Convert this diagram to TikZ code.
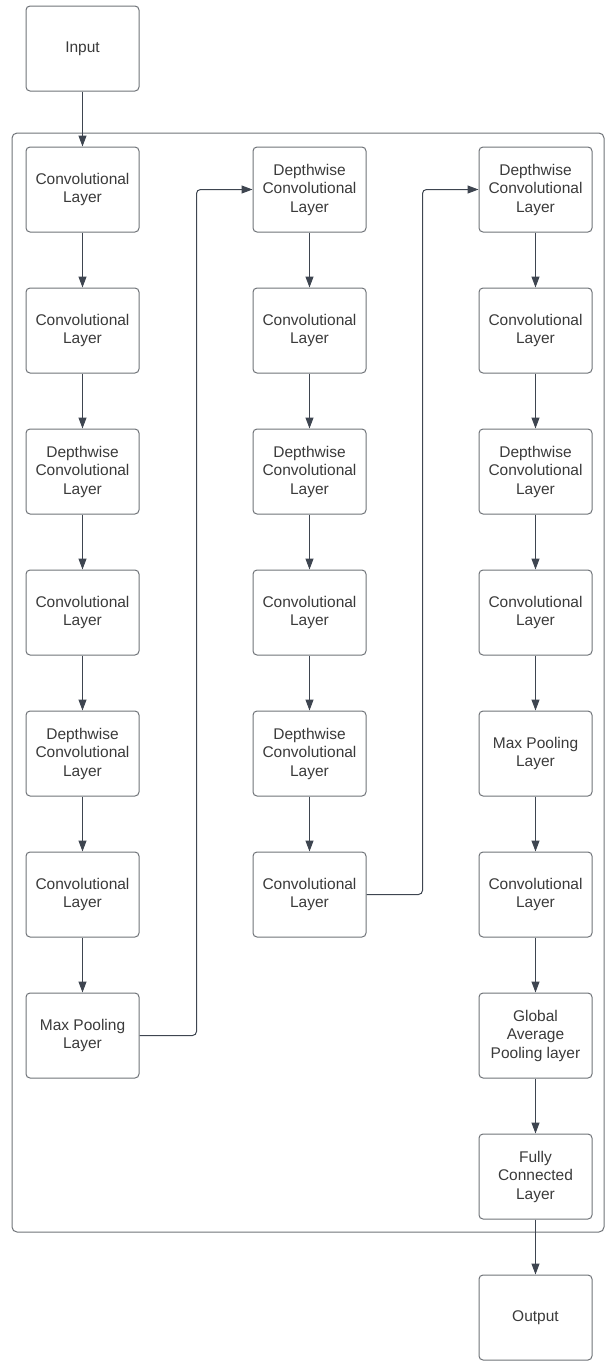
\documentclass[tikz,border=0pt]{standalone}
\usepackage{fontspec}
\setmainfont{Liberation Sans}
\usepackage{tikz}
\usetikzlibrary{arrows.meta}
\definecolor{boxgray}{HTML}{6F7378}
\definecolor{arrgray}{HTML}{3E4550}
\definecolor{txtgray}{HTML}{3A3A3A}

\begin{document}
\begin{tikzpicture}[x=1pt, y=-1pt,
    layer/.style={draw=boxgray, line width=1pt, rounded corners=4pt, minimum width=113pt, minimum height=85pt,
        inner sep=0pt, align=center, text=txtgray, font=\fontsize{15.5}{18.5}\selectfont},
    link/.style={draw=arrgray, line width=1pt, -{Triangle[length=11pt, width=8pt]}}]
                \useasboundingbox (0,0) rectangle (605,1361);
                \draw[boxgray, line width=1pt, rounded corners=5pt] (12,133) rectangle (604,1232);
                \node[layer] (in) at (82.5,48.5) {Input};
                \node[layer] (a1) at (82.5,189.5) {Convolutional\\Layer};
                \node[layer] (a2) at (82.5,330.5) {Convolutional\\Layer};
                \node[layer] (a3) at (82.5,471.5) {Depthwise\\Convolutional\\Layer};
                \node[layer] (a4) at (82.5,612.5) {Convolutional\\Layer};
                \node[layer] (a5) at (82.5,753.5) {Depthwise\\Convolutional\\Layer};
                \node[layer] (a6) at (82.5,894.5) {Convolutional\\Layer};
                \node[layer] (a7) at (82.5,1035.5) {Max Pooling\\Layer};
                \node[layer] (b1) at (309.5,189.5) {Depthwise\\Convolutional\\Layer};
                \node[layer] (b2) at (309.5,330.5) {Convolutional\\Layer};
                \node[layer] (b3) at (309.5,471.5) {Depthwise\\Convolutional\\Layer};
                \node[layer] (b4) at (309.5,612.5) {Convolutional\\Layer};
                \node[layer] (b5) at (309.5,753.5) {Depthwise\\Convolutional\\Layer};
                \node[layer] (b6) at (309.5,894.5) {Convolutional\\Layer};
                \node[layer] (c1) at (535.5,189.5) {Depthwise\\Convolutional\\Layer};
                \node[layer] (c2) at (535.5,330.5) {Convolutional\\Layer};
                \node[layer] (c3) at (535.5,471.5) {Depthwise\\Convolutional\\Layer};
                \node[layer] (c4) at (535.5,612.5) {Convolutional\\Layer};
                \node[layer] (c5) at (535.5,753.5) {Max Pooling\\Layer};
                \node[layer] (c6) at (535.5,894.5) {Convolutional\\Layer};
                \node[layer] (c7) at (535.5,1035.5) {Global\\Average\\Pooling layer};
                \node[layer] (c8) at (535.5,1176.5) {Fully\\Connected\\Layer};
                \node[layer] (out) at (535.5,1317.5) {Output};
                \draw[link] (in) -- (a1);
                \draw[link] (a1) -- (a2);
                \draw[link] (a2) -- (a3);
                \draw[link] (a3) -- (a4);
                \draw[link] (a4) -- (a5);
                \draw[link] (a5) -- (a6);
                \draw[link] (a6) -- (a7);
                \draw[link, rounded corners=4pt] (a7.east) -- ++(57,0) |- (b1.west);
                \draw[link] (b1) -- (b2);
                \draw[link] (b2) -- (b3);
                \draw[link] (b3) -- (b4);
                \draw[link] (b4) -- (b5);
                \draw[link] (b5) -- (b6);
                \draw[link, rounded corners=4pt] (b6.east) -- ++(56,0) |- (c1.west);
                \draw[link] (c1) -- (c2);
                \draw[link] (c2) -- (c3);
                \draw[link] (c3) -- (c4);
                \draw[link] (c4) -- (c5);
                \draw[link] (c5) -- (c6);
                \draw[link] (c6) -- (c7);
                \draw[link] (c7) -- (c8);
                \draw[link] (c8) -- (out);
\end{tikzpicture}
\end{document}
